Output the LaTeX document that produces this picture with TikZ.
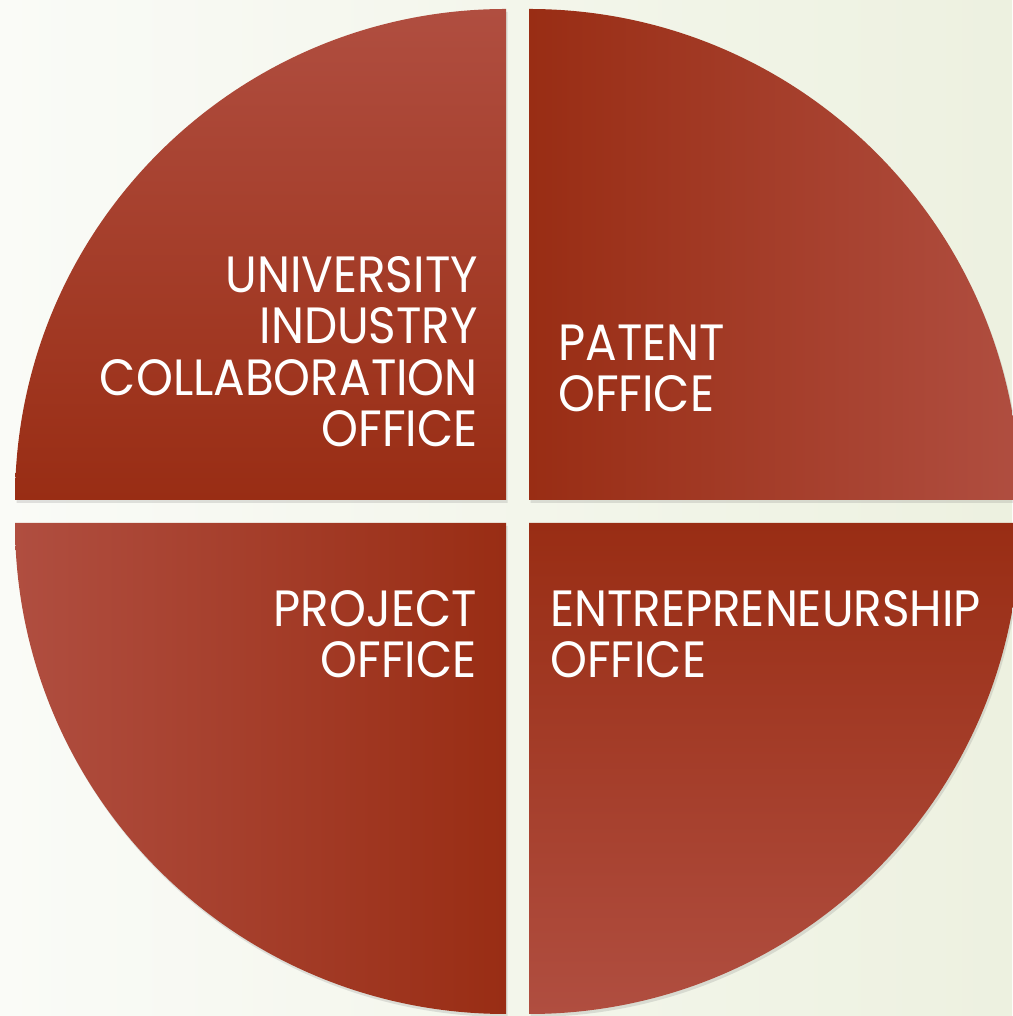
\documentclass[tikz,border=0pt]{standalone}
\usepackage{fontspec}
\setmainfont{Poppins}[FakeStretch=0.92]
\usepackage{xcolor}
\usepackage{tikz}
\usetikzlibrary{positioning, shadows}

\definecolor{rustdark}{HTML}{992D14}
\definecolor{rustlight}{HTML}{B04E40}
\definecolor{paperleft}{HTML}{FAFBF7}
\definecolor{paperright}{HTML}{EDF1E0}

\begin{document}
\begin{tikzpicture}[
    x=1pt, y=1pt,
    quarter/.style={drop shadow={opacity=0.22, shadow xshift=1.5pt, shadow yshift=-3pt}},
    label/.style={text=white, font=\fontsize{51}{51.5}\selectfont, inner sep=0pt}
]
% page and background
\useasboundingbox (0,0) rectangle (1012,1016);
\shade[left color=paperleft, right color=paperright] (0,0) rectangle (1012,1016);

% the four quarters
\path[quarter, top color=rustlight, bottom color=rustdark]
    (506,516) -- ++(-491,0) arc[start angle=180, end angle=90, radius=491] -- cycle;
\path[quarter, left color=rustdark, right color=rustlight]
    (529,516) -- ++(0,491) arc[start angle=90, end angle=0, radius=491] -- cycle;
\path[quarter, left color=rustlight, right color=rustdark]
    (506,493) -- ++(0,-491) arc[start angle=270, end angle=180, radius=491] -- cycle;
\path[quarter, top color=rustdark, bottom color=rustlight]
    (529,493) -- ++(491,0) arc[start angle=0, end angle=-90, radius=491] -- cycle;

% labels (base = last line)
\node[label, align=right, anchor=base east] (uic) at (478,569)
    {UNIVERSITY\\INDUSTRY\\COLLABORATION\\OFFICE};
\node[label, align=left, anchor=base west] (patent) at (558,604) {PATENT\\OFFICE};
\node[label, align=right, anchor=base east] (project) at (477,338) {PROJECT\\OFFICE};
\node[label, align=left, anchor=base west] (entre) at (550,338) {ENTREPRENEURSHIP\\OFFICE};
\end{tikzpicture}
\end{document}
